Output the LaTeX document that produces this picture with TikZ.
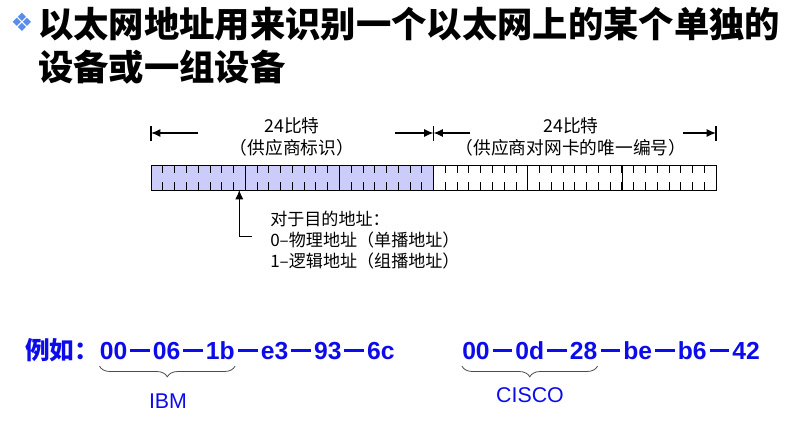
\documentclass[tikz,border=0pt]{standalone}
\usepackage{fontspec}
\setmainfont{Liberation Sans}
\newfontfamily\cjk{Noto Sans CJK SC}
\newfontfamily\symfont{DejaVu Sans}
\usetikzlibrary{arrows.meta, positioning, decorations.pathreplacing}
\definecolor{macblue}{RGB}{12,12,235}
\definecolor{oui}{RGB}{204,204,250}
\definecolor{bullet}{RGB}{90,140,235}
\newcommand\macdash{\hspace{0.12em}\rule[0.3em]{0.8em}{0.09em}\hspace{0.12em}}

\begin{document}
\begin{tikzpicture}[x=0.75pt, y=-0.75pt,
    lbl/.style={inner sep=0, align=center, font=\fontsize{13.3}{17}\selectfont\cjk},
    mac/.style={inner sep=0, anchor=base west, text=macblue, font=\fontsize{18.5}{20}\selectfont\bfseries},
    half/.style={draw, minimum width=211.9pt, minimum height=18.75pt, inner sep=0},
    dim/.style={-{Latex[length=7pt, width=6pt]}, line width=0.9pt},
    brace/.style={decorate, decoration={brace, mirror, amplitude=8pt}, draw=black!70, line width=0.6pt},
  ]
  \useasboundingbox (0,0) rectangle (808,439);

  \node[inner sep=0, text=bullet, font=\fontsize{19}{19}\selectfont\symfont] (bullet) at (22,22) {❖};
  \node[inner sep=0, anchor=north west, align=left, font=\fontsize{26.5}{32}\selectfont\cjk\bfseries]
    (title) at (38,7) {以太网地址用来识别一个以太网上的某个单独的\\设备或一组设备};

  \node[half, fill=oui] (ouibits) at (292.25,177.5) {};
  \node[half] (nicbits) at (574.75,177.5) {};
  \foreach \i in {1,...,47}
    \draw[line width=0.5pt] (151+\i*11.77,165) -- ++(0,8) (151+\i*11.77,190) -- ++(0,-8);
  \foreach \i in {1,2,4,5}
    \draw[line width=0.5pt] (151+\i*94.17,165) -- ++(0,25);

  \node[lbl] (ouilbl) at (292,137) {24比特\\（供应商标识）};
  \node[lbl] (niclbl) at (571,137) {24比特\\（供应商对网卡的唯一编号）};
  \foreach \x in {151,433.5,716}
    \draw[line width=0.9pt] (\x,126) -- (\x,141);
  \coordinate (b0) at (151,133);
  \coordinate (b1) at (433.5,133);
  \coordinate (b2) at (716,133);
  \coordinate (t0) at (198,133);
  \coordinate (t1) at (395,133);
  \coordinate (t2) at (470,133);
  \coordinate (t3) at (683,133);
  \draw[dim] (t0) -- (b0);
  \draw[dim] (t1) -- (b1);
  \draw[dim] (t2) -- (b1);
  \draw[dim] (t3) -- (b2);

  \node[inner sep=0, anchor=west, align=left, font=\fontsize{12.8}{16}\selectfont\cjk]
    (note) at (270,240) {对于目的地址：\\0–物理地址（单播地址）\\1–逻辑地址（组播地址）};
  \coordinate (igbit) at (239.3,190);
  \coordinate (bend) at (239.3,236);
  \coordinate (tail) at (252,236);
  \draw[dim, line width=0.7pt] (tail) -- (bend) -- (igbit);

  \node[mac, font=\fontsize{18.5}{20}\selectfont\cjk\bfseries] (eg) at (25,359) {例如：};
  \node[mac] (ibm) at (eg.base east) {00\macdash 06\macdash 1b};
  \node[mac] (ibmrest) at (ibm.base east) {\macdash e3\macdash 93\macdash 6c};
  \node[mac] (cisco) at (462,359) {00\macdash 0d\macdash 28};
  \node[mac] (ciscorest) at (cisco.base east) {\macdash be\macdash b6\macdash 42};

  \draw[brace] ([yshift=-5pt]ibm.south west) -- ([yshift=-5pt]ibm.south east);
  \draw[brace] ([yshift=-5pt]cisco.south west) -- ([yshift=-5pt]cisco.south east);
  \node[inner sep=0, text=macblue, font=\fontsize{16}{16}\selectfont] (ibmname) at (168,401) {IBM};
  \node[inner sep=0, text=macblue, font=\fontsize{16}{16}\selectfont] (cisconame) at (530,395) {CISCO};
\end{tikzpicture}
\end{document}
